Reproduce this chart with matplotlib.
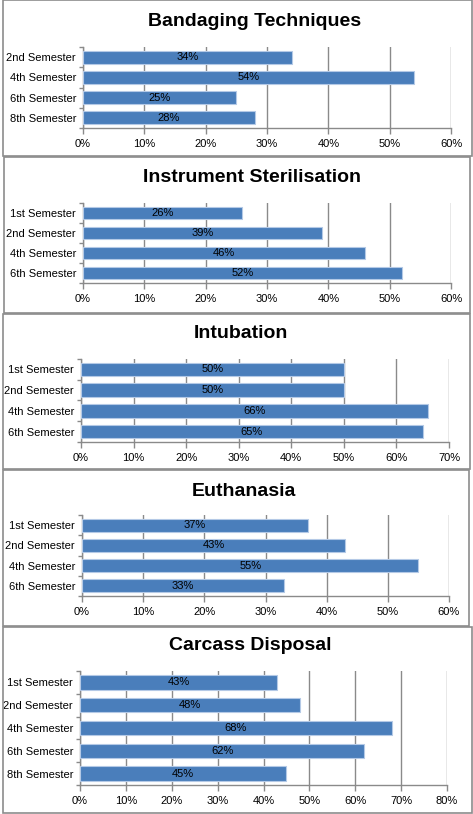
import matplotlib
matplotlib.use("Agg")
import matplotlib.pyplot as plt
from matplotlib.patches import Rectangle
import numpy as np

plt.rcParams['font.family'] = ['Liberation Sans', 'DejaVu Sans']

# ---- data ----
titles = ["Bandaging Techniques", "Instrument Sterilisation", "Intubation",
          "Euthanasia", "Carcass Disposal"]
cats_bandaging = ["2nd Semester", "4th Semester", "6th Semester", "8th Semester"]
vals_bandaging = [34, 54, 25, 28]
cats_sterilisation = ["1st Semester", "2nd Semester", "4th Semester", "6th Semester"]
vals_sterilisation = [26, 39, 46, 52]
cats_intubation = ["1st Semester", "2nd Semester", "4th Semester", "6th Semester"]
vals_intubation = [50, 50, 66, 65]
cats_euthanasia = ["1st Semester", "2nd Semester", "4th Semester", "6th Semester"]
vals_euthanasia = [37, 43, 55, 33]
cats_carcass = ["1st Semester", "2nd Semester", "4th Semester", "6th Semester", "8th Semester"]
vals_carcass = [43, 48, 68, 62, 45]
xmax = [60, 60, 70, 60, 80]

cats_all = [cats_bandaging, cats_sterilisation, cats_intubation, cats_euthanasia, cats_carcass]
vals_all = [vals_bandaging, vals_sterilisation, vals_intubation, vals_euthanasia, vals_carcass]

# ---- layout (pixels) ----
W, H = 473, 814
boxes = [(3, 0, 472, 156), (4, 157, 470, 313), (3, 314, 470, 469),
         (3, 470, 469, 626), (3, 627, 472, 813)]
axes_px = [(83, 47, 451, 128), (83, 203, 451, 283), (81, 359, 449, 442),
           (82, 515, 449, 596), (80, 671, 447, 785)]
title_px = [(255, 21), (252, 178), (241, 333), (244, 491), (250, 646)]

fig = plt.figure(figsize=(W / 100, H / 100), dpi=100)
fig.patch.set_facecolor('white')

grid_col = '#8a8a8a'
bar_col = '#4a7ebb'
edge_col = '#b4c9e6'

for i in range(5):
    x0, y0, x1, y1 = boxes[i]
    fig.patches.append(Rectangle((x0 / W, 1 - y1 / H), (x1 - x0) / W, (y1 - y0) / H,
                                 transform=fig.transFigure, fill=False,
                                 edgecolor='#8c8c8c', linewidth=1.2, zorder=0))
    ax0, ay0, ax1, ay1 = axes_px[i]
    ax = fig.add_axes([ax0 / W, 1 - ay1 / H, (ax1 - ax0) / W, (ay1 - ay0) / H])
    cats = cats_all[i]
    vals = vals_all[i]
    n = len(cats)
    y = np.arange(n)
    ax.barh(y, vals, height=0.64, color=bar_col, edgecolor=edge_col,
            linewidth=0.8, zorder=3)
    for yy, v in zip(y, vals):
        ax.text(v / 2, yy, f"{v}%", ha='center', va='center', fontsize=8,
                color='black', zorder=4)
    ax.set_xlim(0, xmax[i])
    ax.set_ylim(n - 0.5, -0.5)
    ticks = np.arange(0, xmax[i] + 1, 10)
    ax.set_xticks(ticks)
    ax.set_xticklabels([f"{t}%" for t in ticks], fontsize=8)
    ax.set_yticks(y)
    ax.set_yticklabels(cats, fontsize=8)
    ax.set_yticks(np.arange(-0.5, n, 1.0), minor=True)
    ax.tick_params(axis='y', which='major', length=0, pad=5)
    ax.tick_params(axis='y', which='minor', length=3, color=grid_col, width=1)
    ax.tick_params(axis='x', which='major', length=4, color=grid_col, width=1, pad=4)
    ax.grid(axis='x', color=grid_col, linewidth=1, zorder=1)
    ax.set_axisbelow(True)
    for s in ['top', 'right']:
        ax.spines[s].set_visible(False)
    for s in ['left', 'bottom']:
        ax.spines[s].set_color(grid_col)
        ax.spines[s].set_linewidth(1)
    ax.set_facecolor('none')
    tx, ty = title_px[i]
    fig.text(tx / W, 1 - ty / H, titles[i], ha='center', va='center',
             fontsize=14, fontweight='bold')

fig.savefig('out.png', dpi=100)
